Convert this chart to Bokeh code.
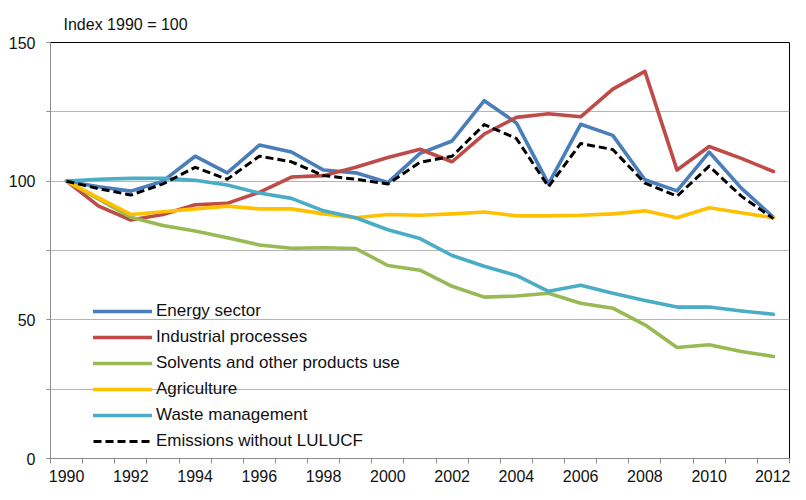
from bokeh.plotting import figure
from bokeh.models import (Range1d, FixedTicker, Legend, LegendItem, Grid,
                          ColumnDataSource)
from bokeh.embed import file_html
from bokeh.resources import INLINE

years = list(range(1990, 2013))
energy = [100, 98, 96.4, 100, 109, 103, 113, 110.5, 104, 103, 99.5, 110, 114.5,
          129, 121, 99, 120.5, 116.5, 100.5, 96.5, 110.5, 97.5, 87]
industrial = [100, 91, 86, 88, 91.5, 92, 96, 101.5, 102, 105, 108.5, 111.5, 107,
              117, 123, 124.3, 123.2, 133.2, 139.6, 104, 112.5, 108.2, 103.5]
solvents = [100, 93.5, 87, 84, 82, 79.6, 77, 75.8, 76, 75.7, 69.6, 67.9, 62.1,
            58.2, 58.6, 59.6, 56, 54.2, 48.2, 40, 41, 38.6, 36.8]
agriculture = [100, 94, 88, 89, 90, 91, 90, 90, 88.2, 86.8, 88, 87.7, 88.2,
               88.9, 87.5, 87.5, 87.7, 88.2, 89.3, 86.8, 90.4, 88.6, 86.8]
waste = [100, 100.7, 101, 101, 100.3, 98.6, 95.7, 93.8, 89.3, 86.8, 82.5, 79.3,
         73.2, 69.3, 66, 60.3, 62.5, 59.6, 57, 54.6, 54.6, 53.2, 52]
emissions = [100, 97.3, 95, 99, 105, 100.7, 109, 107, 102, 100.7, 99, 106.8, 109,
             120.4, 115.4, 98, 113.6, 111.4, 99.3, 94.6, 105.4, 94.6, 86.5]

series_names = ["Energy sector", "Industrial processes", "Solvents and other products use",
                "Agriculture", "Waste management", "Emissions without LULUCF"]
y_ticks = [0, 25, 50, 75, 100, 125, 150]
x_label_years = list(range(1990, 2013, 2))

FONT = "Liberation Sans"
TXT = "#111111"

src = ColumnDataSource(data=dict(year=years, energy=energy, industrial=industrial,
                                 solvents=solvents, agriculture=agriculture,
                                 waste=waste, emissions=emissions))

p = figure(width=790, height=484, output_backend="svg", toolbar_location=None,
           x_range=Range1d(years[0] - 0.5, years[-1] + 0.5), y_range=Range1d(0, 150),
           min_border_left=50, min_border_right=1, min_border_top=42,
           min_border_bottom=25)
p.background_fill_color = "white"
p.border_fill_color = "white"
p.outline_line_color = "black"
p.outline_line_width = 1

p.title.text = "Index 1990 = 100"
p.title.align = "left"
p.title.offset = 13
p.title.standoff = 20
p.title.text_font = FONT
p.title.text_font_size = "16px"
p.title.text_font_style = "normal"
p.title.text_color = TXT

p.xgrid.visible = False
p.ygrid.visible = False
grid_color = "#b4b4b4"
g1 = Grid(dimension=1, ticker=FixedTicker(ticks=[75, 100, 125]),
          grid_line_color=grid_color, grid_line_width=1)
g2 = Grid(dimension=1, ticker=FixedTicker(ticks=[25, 50]), bounds=(2001.25, 2012.5),
          grid_line_color=grid_color, grid_line_width=1)
p.add_layout(g1)
p.add_layout(g2)

axis_color = "#8c8c8c"
xa = p.xaxis[0]
xa.ticker = FixedTicker(ticks=x_label_years,
                        minor_ticks=[y - 0.5 for y in years] + [years[-1] + 0.5])
xa.major_tick_line_color = None
xa.major_tick_out = 0
xa.major_tick_in = 0
xa.minor_tick_line_color = axis_color
xa.minor_tick_out = 5
xa.minor_tick_in = 0
xa.axis_line_color = axis_color
xa.major_label_standoff = 6
xa.major_label_text_font = FONT
xa.major_label_text_font_size = "16px"
xa.major_label_text_color = TXT

ya = p.yaxis[0]
ya.ticker = FixedTicker(ticks=y_ticks)
ya.major_label_overrides = {25: "", 75: "", 125: ""}
ya.minor_tick_line_color = None
ya.major_tick_line_color = axis_color
ya.major_tick_out = 4
ya.major_tick_in = 0
ya.axis_line_color = axis_color
ya.major_label_standoff = 11
ya.major_label_text_font = FONT
ya.major_label_text_font_size = "16px"
ya.major_label_text_color = TXT

colors = ["#4a7ebb", "#be4b48", "#98b954", "#ffc000", "#4bacc6", "black"]
cols = ["energy", "industrial", "solvents", "agriculture", "waste", "emissions"]
renderers = []
for col, c in zip(cols, colors):
    if col == "emissions":
        r = p.line("year", col, source=src, line_color=c, line_width=3,
                   line_dash="8 4", line_join="round")
    else:
        r = p.line("year", col, source=src, line_color=c, line_width=3.6,
                   line_join="round", line_cap="round")
    renderers.append(r)

legend = Legend(items=[LegendItem(label=n, renderers=[r]) for n, r in zip(series_names, renderers)],
                location=(43, 7), padding=0, margin=0, spacing=6,
                glyph_width=59, glyph_height=20, label_height=20, label_standoff=4,
                background_fill_alpha=0, border_line_alpha=0,
                label_text_font=FONT, label_text_font_size="17px",
                label_text_color=TXT)
p.add_layout(legend)

open("out.html", "w").write(file_html(p, INLINE))
